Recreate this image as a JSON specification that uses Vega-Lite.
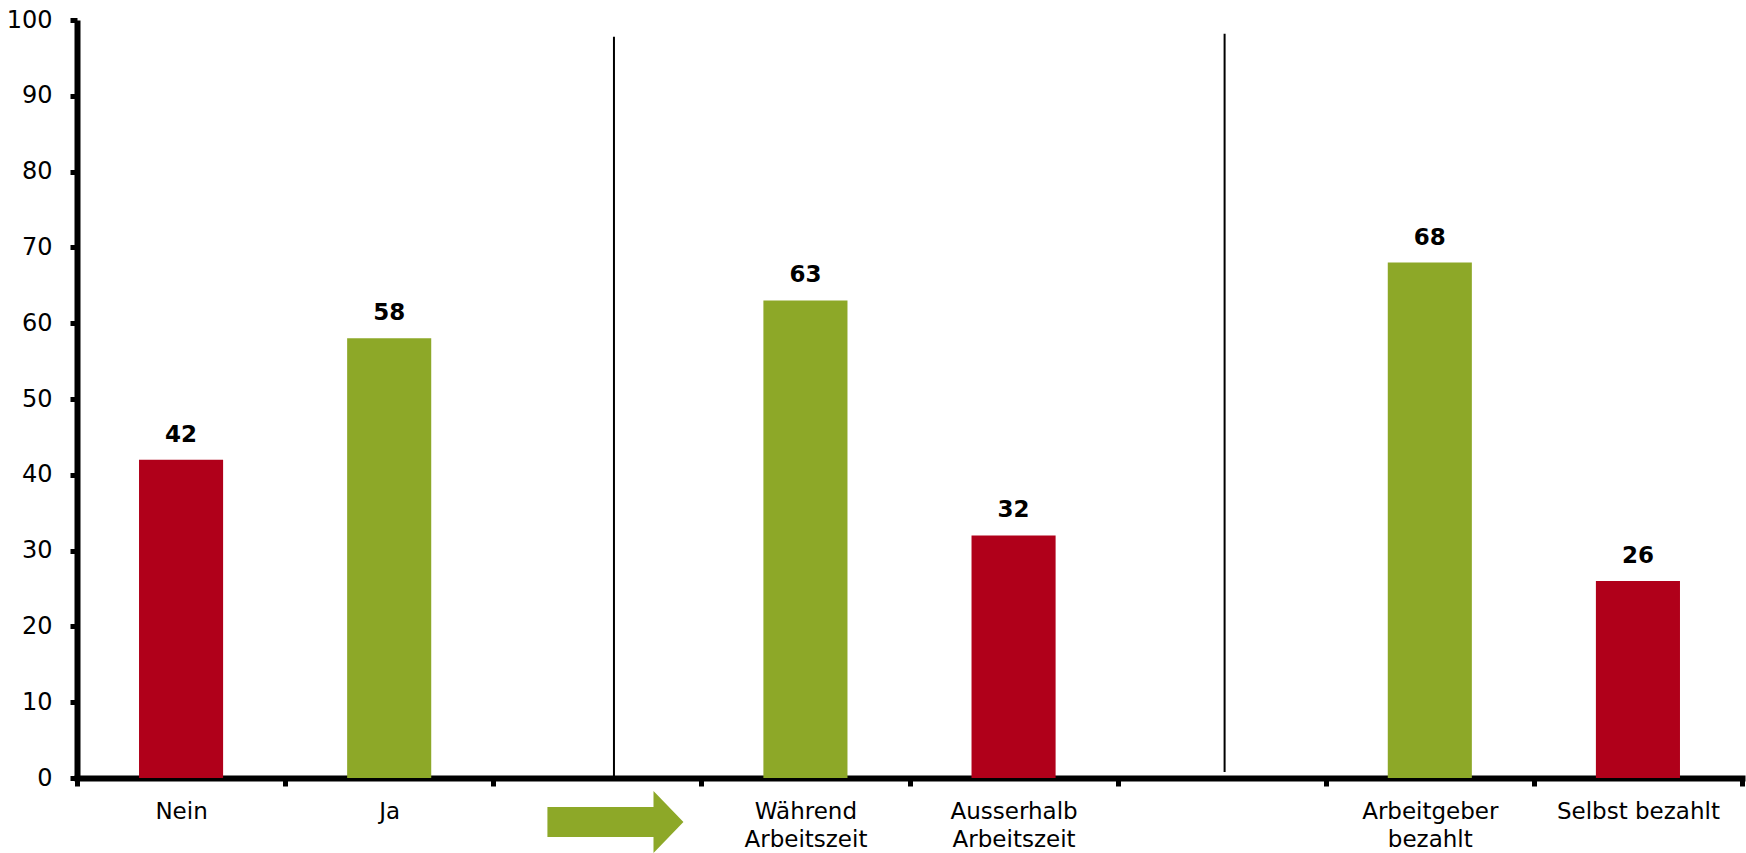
{
  "$schema": "https://vega.github.io/schema/vega-lite/v6.json",
  "autosize": {"type": "none"},
  "width": 1665,
  "height": 758,
  "padding": {"left": 77, "top": 20, "right": 4, "bottom": 75},
  "background": "white",
  "config": {"view": {"stroke": null}},
  "datasets": {
    "bars": [
      {"cat": "Nein", "value": 42, "kind": "negativ"},
      {"cat": "Ja", "value": 58, "kind": "positiv"},
      {"cat": "Während|Arbeitszeit", "value": 63, "kind": "positiv"},
      {"cat": "Ausserhalb|Arbeitszeit", "value": 32, "kind": "negativ"},
      {"cat": "Arbeitgeber|bezahlt", "value": 68, "kind": "positiv"},
      {"cat": "Selbst bezahlt", "value": 26, "kind": "negativ"}
    ],
    "rules": [
      {"cat": "gap1", "top": 97.8, "bottom": 0},
      {"cat": "gap2", "top": 98.2, "bottom": 0.8}
    ],
    "arrow": [
      {"cat": "gap1", "y": -5.8, "kind": "positiv"}
    ]
  },
  "encoding": {
    "x": {
      "field": "cat",
      "type": "nominal",
      "sort": null,
      "scale": {
        "domain": ["Nein", "Ja", "gap1", "Während|Arbeitszeit", "Ausserhalb|Arbeitszeit", "gap2", "Arbeitgeber|bezahlt", "Selbst bezahlt"],
        "paddingInner": 0,
        "paddingOuter": 0
      },
      "axis": {
        "title": null,
        "labelAngle": 0,
        "labelExpr": "!isString(datum.value) || indexof(['gap1','gap2'], datum.value) >= 0 ? '' : split(datum.value, '|')",
        "labelFont": "DejaVu Sans",
        "labelFontSize": 23,
        "labelColor": "#000000",
        "labelLineHeight": 28,
        "labelPadding": 14,
        "tickBand": "extent",
        "tickSize": 8,
        "tickWidth": 5,
        "tickColor": "#000000",
        "domainColor": "#000000",
        "domainWidth": 6,
        "domainCap": "square",
        "grid": false
      }
    }
  },
  "layer": [
    {
      "data": {"name": "bars"},
      "mark": {"type": "bar", "width": {"band": 0.404}},
      "encoding": {
        "y": {
          "field": "value",
          "type": "quantitative",
          "scale": {"domain": [0, 100], "nice": false, "zero": true},
          "axis": {
            "title": null,
            "values": [0, 10, 20, 30, 40, 50, 60, 70, 80, 90, 100],
            "grid": false,
            "labelFont": "DejaVu Sans",
            "labelFontSize": 24,
            "labelColor": "#000000",
            "labelPadding": 18,
            "tickSize": 7,
            "tickWidth": 5,
            "tickColor": "#000000",
            "domainColor": "#000000",
            "domainWidth": 6,
            "labelFlush": false
          }
        },
        "color": {
          "field": "kind",
          "type": "nominal",
          "scale": {"domain": ["negativ", "positiv"], "range": ["#B0001A", "#8DA828"]},
          "legend": null
        }
      }
    },
    {
      "data": {"name": "bars"},
      "mark": {"type": "text", "baseline": "alphabetic", "align": "center", "dy": -18, "font": "DejaVu Sans", "fontWeight": "bold", "fontSize": 23, "color": "#000000"},
      "encoding": {
        "y": {"field": "value", "type": "quantitative"},
        "text": {"field": "value", "type": "quantitative"}
      }
    },
    {
      "data": {"name": "rules"},
      "transform": [{"filter": "datum.cat == 'gap1'"}],
      "mark": {"type": "rule", "color": "#000000", "strokeWidth": 2},
      "encoding": {
        "x": {"field": "cat", "type": "nominal", "bandPosition": 0.58},
        "y": {"field": "top", "type": "quantitative"},
        "y2": {"field": "bottom"}
      }
    },
    {
      "data": {"name": "rules"},
      "transform": [{"filter": "datum.cat == 'gap2'"}],
      "mark": {"type": "rule", "color": "#000000", "strokeWidth": 2},
      "encoding": {
        "x": {"field": "cat", "type": "nominal", "bandPosition": 0.514},
        "y": {"field": "top", "type": "quantitative"},
        "y2": {"field": "bottom"}
      }
    },
    {
      "data": {"name": "arrow"},
      "mark": {
        "type": "point",
        "filled": true,
        "opacity": 1,
        "size": 18496,
        "shape": "M-1,-0.22 L0.56,-0.22 L0.56,-0.456 L1,0 L0.56,0.456 L0.56,0.22 L-1,0.22 Z"
      },
      "encoding": {
        "x": {"field": "cat", "type": "nominal", "bandPosition": 0.587},
        "y": {"field": "y", "type": "quantitative"},
        "color": {"field": "kind", "type": "nominal", "legend": null}
      }
    }
  ]
}
